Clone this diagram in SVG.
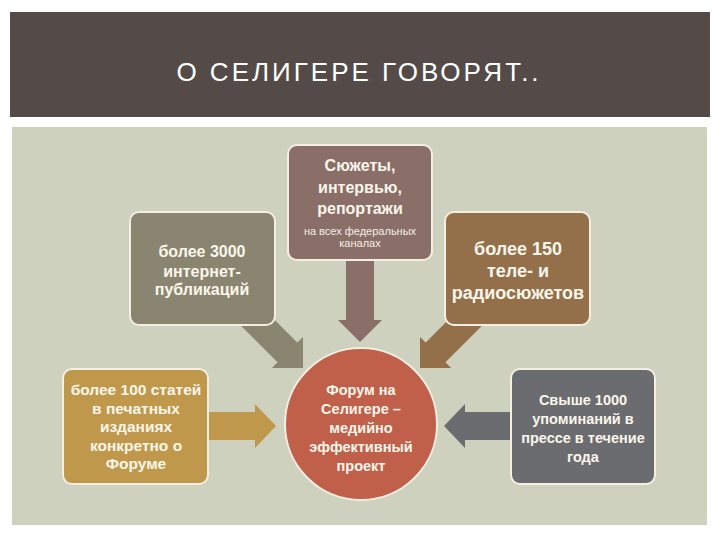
<svg xmlns="http://www.w3.org/2000/svg" width="720" height="540" viewBox="0 0 720 540">
<style>
.t{font-family:"Liberation Sans","DejaVu Sans",sans-serif;fill:#fbf6ea;text-anchor:middle;font-weight:bold}
.s{font-family:"Liberation Sans","DejaVu Sans",sans-serif;fill:#f4eee4;text-anchor:middle;font-size:11px}
.box{stroke:#f4efe2;stroke-width:2}
</style>
<rect x="0" y="0" width="720" height="540" fill="#ffffff"/>
<rect x="10" y="12" width="700" height="105" fill="#544b48"/>
<text x="359" y="81" font-family="Liberation Sans, sans-serif" font-size="26" fill="#ffffff" text-anchor="middle" letter-spacing="3">О СЕЛИГЕРЕ ГОВОРЯТ..</text>
<rect x="12" y="127" width="695" height="398" fill="#ced1be"/>
<g id="connectors">
<path d="M346,250 L374,250 L374,320 L382,320 L360,342 L338,320 L346,320 Z" fill="#8a6e68"/>
<g transform="translate(303,368) rotate(45)"><path d="M-85,-14 L-22,-14 L-22,-22 L0,0 L-22,22 L-22,14 L-85,14 Z" fill="#8a8571"/></g>
<g transform="translate(420,368) rotate(135)"><path d="M-85,-14 L-22,-14 L-22,-22 L0,0 L-22,22 L-22,14 L-85,14 Z" fill="#93704a"/></g>
<path d="M200,412 L255,412 L255,404 L276,426 L255,448 L255,440 L200,440 Z" fill="#c0984c"/>
<path d="M520,412 L465,412 L465,404 L444,426 L465,448 L465,440 L520,440 Z" fill="#6b6c70"/>
</g>
<g id="top"><rect class="box" x="288" y="145" width="144" height="115" rx="9" fill="#8a6e68"/>
<text class="t" font-size="16" x="360" y="171">Сюжеты,</text>
<text class="t" font-size="16" x="360" y="193">интервью,</text>
<text class="t" font-size="16" x="360" y="214">репортажи</text>
<text class="s" x="360" y="235">на всех федеральных</text>
<text class="s" x="360" y="247">каналах</text></g>
<g id="left"><rect class="box" x="130" y="212" width="145" height="113" rx="9" fill="#8a8571"/>
<text class="t" font-size="16" x="202" y="257">более 3000</text>
<text class="t" font-size="16" x="202" y="277">интернет-</text>
<text class="t" font-size="16" x="202" y="295">публикаций</text></g>
<g id="right"><rect class="box" x="445" y="212" width="145" height="113" rx="9" fill="#93704a"/>
<text class="t" font-size="18" x="518" y="255">более 150</text>
<text class="t" font-size="18" x="518" y="277">теле- и</text>
<text class="t" font-size="18" x="518" y="299">радиосюжетов</text></g>
<g id="bl"><rect class="box" x="63" y="369" width="145" height="115" rx="9" fill="#c0984c"/>
<text class="t" font-size="15.5" x="136" y="395">более 100 статей</text>
<text class="t" font-size="15.5" x="136" y="413.5">в печатных</text>
<text class="t" font-size="15.5" x="136" y="432">изданиях</text>
<text class="t" font-size="15.5" x="136" y="450.5">конкретно о</text>
<text class="t" font-size="15.5" x="136" y="469">Форуме</text></g>
<g id="center"><circle class="box" cx="361" cy="424" r="76" fill="#c0604b"/>
<text class="t" font-size="14.5" x="361" y="395">Форум на</text>
<text class="t" font-size="14.5" x="361" y="414">Селигере –</text>
<text class="t" font-size="14.5" x="361" y="433">медийно</text>
<text class="t" font-size="14.5" x="361" y="452">эффективный</text>
<text class="t" font-size="14.5" x="361" y="471">проект</text></g>
<g id="br"><rect class="box" x="511" y="369" width="144" height="115" rx="9" fill="#6b6c70"/>
<text class="t" font-size="14.5" x="583" y="405">Свыше 1000</text>
<text class="t" font-size="14.5" x="583" y="424">упоминаний в</text>
<text class="t" font-size="14.5" x="583" y="443">прессе в течение</text>
<text class="t" font-size="14.5" x="583" y="462">года</text></g>
</svg>
